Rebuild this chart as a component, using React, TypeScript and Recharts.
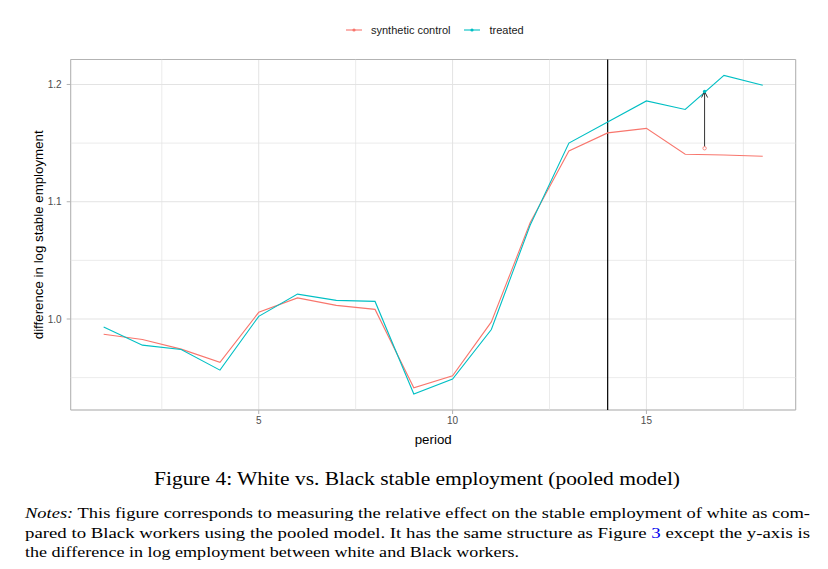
import React from 'react';
import {
  LineChart,
  Line,
  XAxis,
  YAxis,
  CartesianGrid,
  ReferenceLine,
  ReferenceArea,
} from 'recharts';

// values
const periods = [1, 2, 3, 4, 5, 6, 7, 8, 9, 10, 11, 12, 13, 14, 15, 16, 17, 18];
const treated = [
  0.9932, 0.9777, 0.974, 0.9564, 1.0023, 1.0212, 1.0159, 1.015, 0.936, 0.9488,
  0.991, 1.080, 1.150, 1.168, 1.186, 1.1787, 1.2077, 1.1994,
];
const syntheticControl = [
  0.987, 0.9825, 0.9743, 0.963, 1.0057, 1.018, 1.0116, 1.0082, 0.9414, 0.9516,
  0.9975, 1.082, 1.1433, 1.1587, 1.1626, 1.1405, 1.1399, 1.1388,
];
const xTicks = [5, 10, 15];
const yTicks = [1.0, 1.1, 1.2];
const xMinorTicks = [2.5, 7.5, 12.5, 17.5];
const yMinorTicks = [0.95, 1.05, 1.15];
const xDomain = [0.15, 18.85];
const yDomain = [0.9224, 1.2213];
const treatmentPeriod = 14;
const gapArrow = { period: 16.5, from: 1.1456, to: 1.194 };

const series = [
  { key: 'synthetic', name: 'synthetic control', color: '#F8766D' },
  { key: 'treated', name: 'treated', color: '#00BFC4' },
];

const data = periods.map((p, i) => ({
  period: p,
  synthetic: syntheticControl[i],
  treated: treated[i],
}));

const GRID = '#e3e3e3';
const BORDER = '#b3b3b3';
const SANS = '"Liberation Sans", Arial, sans-serif';
const SERIF = '"Liberation Serif", "Times New Roman", serif';

const ArrowShape = (props: any) => {
  const { x1, y1, x2, y2 } = props;
  return (
    <g>
      <line x1={x1} y1={y1} x2={x2} y2={y2} stroke="#333" strokeWidth={1} />
      <polyline
        points={`${x2 - 3},${y2 + 6} ${x2},${y2} ${x2 + 3},${y2 + 6}`}
        fill="none"
        stroke="#333"
        strokeWidth={1}
      />
      <circle cx={x1} cy={y1} r={1.7} fill="#fff" stroke="#F8766D" strokeWidth={0.8} />
      <circle cx={x2} cy={y2} r={1.7} fill="#00BFC4" />
    </g>
  );
};

const LegendKey = ({ color }: { color: string }) => (
  <svg width={16} height={10} style={{ display: 'block' }}>
    <line x1={0} y1={5} x2={16} y2={5} stroke={color} strokeWidth={1.1} />
    <circle cx={8} cy={5} r={1.6} fill={color} />
  </svg>
);

export default function App() {
  return (
    <div
      style={{
        position: 'absolute',
        left: 0,
        top: 0,
        width: 828,
        height: 569,
        background: '#fff',
        fontFamily: SANS,
        overflow: 'hidden',
      }}
    >
      {/* legend */}
      <div
        style={{
          position: 'absolute',
          top: 23,
          left: 346,
          display: 'flex',
          alignItems: 'center',
          fontSize: 11,
          color: '#1a1a1a',
          lineHeight: '14px',
        }}
      >
        {series.map((s, i) => (
          <div
            key={s.key}
            style={{ display: 'flex', alignItems: 'center', marginRight: i === 0 ? 14 : 0 }}
          >
            <LegendKey color={s.color} />
            <span style={{ marginLeft: 9 }}>{s.name}</span>
          </div>
        ))}
      </div>

      <LineChart
        width={828}
        height={460}
        data={data}
        margin={{ top: 59.5, right: 32.3, bottom: 0, left: 0 }}
        style={{ position: 'absolute', left: 0, top: 0 }}
      >
        <CartesianGrid stroke={GRID} strokeWidth={1} />
        {xMinorTicks.map((v) => (
          <ReferenceLine key={'vx' + v} x={v} stroke={GRID} strokeWidth={0.7} />
        ))}
        {yMinorTicks.map((v) => (
          <ReferenceLine key={'hy' + v} y={v} stroke={GRID} strokeWidth={0.7} />
        ))}
        <XAxis
          dataKey="period"
          type="number"
          domain={xDomain}
          ticks={xTicks}
          allowDataOverflow
          height={50}
          axisLine={false}
          tickLine={{ stroke: BORDER }}
          tickSize={4}
          tickMargin={3}
          tick={{ fill: '#4d4d4d', fontSize: 10 }}
          label={{
            content: () => (
              <text x={433.2} y={439} textAnchor="middle" dominantBaseline="central" fontSize={13.3} fill="#000">
                period
              </text>
            ),
          }}
        />
        <YAxis
          type="number"
          domain={yDomain}
          ticks={yTicks}
          allowDataOverflow
          width={70.7}
          axisLine={false}
          tickLine={{ stroke: BORDER }}
          tickSize={4}
          tickMargin={5}
          tick={{ fill: '#4d4d4d', fontSize: 10 }}
          tickFormatter={(v: number) => v.toFixed(1)}
          label={{
            content: () => (
              <text
                x={38.3}
                y={234.8}
                transform="rotate(-90 38.3 234.8)"
                textAnchor="middle"
                dominantBaseline="central"
                fontSize={13.3}
                fill="#000"
              >
                difference in log stable employment
              </text>
            ),
          }}
        />
        <ReferenceArea
          x1={xDomain[0]}
          x2={xDomain[1]}
          y1={yDomain[0]}
          y2={yDomain[1]}
          fill="none"
          stroke={BORDER}
          strokeWidth={1}
        />
        <ReferenceLine x={treatmentPeriod} stroke="#000" strokeWidth={1.2} />
        {series.map((s) => (
          <Line
            key={s.key}
            dataKey={s.key}
            name={s.name}
            type="linear"
            stroke={s.color}
            strokeWidth={1.1}
            dot={false}
            activeDot={false}
            isAnimationActive={false}
          />
        ))}
        <ReferenceLine
          segment={[
            { x: gapArrow.period, y: gapArrow.from },
            { x: gapArrow.period, y: gapArrow.to },
          ]}
          shape={ArrowShape}
        />
      </LineChart>

      {/* caption and notes */}
      <svg
        width={828}
        height={110}
        style={{ position: 'absolute', left: 0, top: 459 }}
        fontFamily={SERIF}
      >
        <text x={154} y={26} fontSize={19} textLength={526} lengthAdjust="spacingAndGlyphs" fill="#000">
          Figure 4: White vs. Black stable employment (pooled model)
        </text>
        <text x={25} y={58.5} fontSize={15} textLength={785} lengthAdjust="spacingAndGlyphs" fill="#000">
          <tspan fontStyle="italic">Notes:</tspan> This figure corresponds to measuring the relative
          effect on the stable employment of white as com-
        </text>
        <text x={25} y={78.5} fontSize={15} textLength={785} lengthAdjust="spacingAndGlyphs" fill="#000">
          pared to Black workers using the pooled model. It has the same structure as Figure{' '}
          <tspan fill="#0000ee">3</tspan> except the y-axis is
        </text>
        <text x={25} y={98} fontSize={15} textLength={494} lengthAdjust="spacingAndGlyphs" fill="#000">
          the difference in log employment between white and Black workers.
        </text>
      </svg>
    </div>
  );
}
